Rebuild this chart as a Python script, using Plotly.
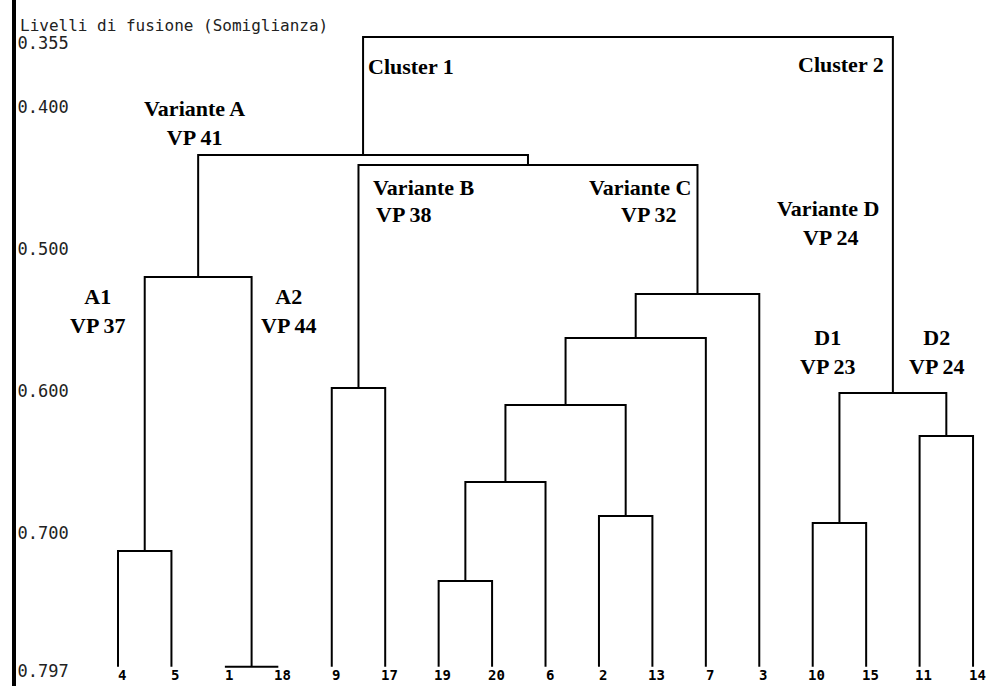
import plotly.graph_objects as go

# ---------------- data ----------------
leaf_labels = ["4", "5", "1", "18", "9", "17", "19", "20", "6", "2", "13", "7", "3",
               "10", "15", "11", "14"]
baseline = 0.797  # leaf level (fusion level axis bottom)

# merges: node name, left child, right child, fusion level
merge_names = ["m1", "m2", "m3", "m4", "m5", "m6", "m7", "m8", "m9", "m10",
               "m11", "m12", "m13", "m14", "m15", "m16"]
merge_left = ["4", "1", "m1", "9", "19", "m5", "2", "m6", "m8", "m9",
              "m4", "m3", "10", "11", "m13", "m12"]
merge_right = ["5", "18", "m2", "17", "20", "6", "13", "m7", "7", "3",
               "m10", "m11", "15", "14", "m14", "m15"]
merge_level = [0.7155, 0.797, 0.5225, 0.6007, 0.7366, 0.6669, 0.6908, 0.6127,
               0.5655, 0.5345, 0.4437, 0.4366, 0.6958, 0.6345, 0.6042, 0.3535]

tick_vals = [0.355, 0.400, 0.500, 0.600, 0.700, 0.797]
tick_text = ["0.355", "0.400", "0.500", "0.600", "0.700", "0.797"]
axis_title = "Livelli di fusione (Somiglianza)"

group_text = ["Cluster 1", "Cluster 2", "Variante A<br>VP 41", "A1<br>VP 37", "A2<br>VP 44",
              "Variante B", "VP 38", "Variante C", "VP 32", "Variante D<br> VP 24",
              "D1<br>VP 23", "D2<br>VP 24"]

# ---------------- geometry helpers ----------------
X0, DX = 118.0, 53.44        # pixel of first leaf, spacing
Y0, DY = 103.0, 1420.0       # pixel of value 0.4, px per unit


def px_x(px):
    return (px - X0) / DX


def px_y(py):
    return 0.4 + (py - Y0) / DY


pos = {lab: (i, baseline) for i, lab in enumerate(leaf_labels)}
xs, ys = [], []
for name, l, r, h in zip(merge_names, merge_left, merge_right, merge_level):
    xl, hl = pos[l]
    xr, hr = pos[r]
    xs += [xl, xl, xr, xr, None]
    ys += [hl, h, h, hr, None]
    pos[name] = ((xl + xr) / 2, h)

fig = go.Figure()
fig.add_trace(go.Scatter(x=xs, y=ys, mode="lines",
                         line=dict(color="black", width=2),
                         hoverinfo="skip", showlegend=False))

W, H = 988, 686
L = 16
fig.update_layout(
    width=W, height=H,
    margin=dict(l=L, r=0, t=0, b=0),
    paper_bgcolor="white", plot_bgcolor="white",
    xaxis=dict(range=[px_x(L), px_x(W)], visible=False),
    yaxis=dict(range=[px_y(H), px_y(0)], showgrid=False, zeroline=False,
               showline=True, linecolor="black", linewidth=4,
               tickvals=tick_vals, ticktext=tick_text, ticks="",
               ticklabelposition="inside", ticklabelstandoff=2, ticklabelshift=-4,
               tickfont=dict(family="DejaVu Sans Mono", size=17, color="#222")),
)

# axis title
fig.add_annotation(x=px_x(18), y=px_y(25), xanchor="left", yanchor="middle",
                   text=axis_title, showarrow=False,
                   font=dict(family="DejaVu Sans Mono", size=16, color="#222"))

# leaf labels
for i, lab in enumerate(leaf_labels):
    fig.add_annotation(x=i, y=baseline, yshift=-8, xshift=4, text="<b>" + lab + "</b>",
                       showarrow=False, xanchor="center", yanchor="middle",
                       font=dict(family="DejaVu Sans Mono", size=14, color="black"))

serif = dict(family="Liberation Serif", size=22, color="black")
# group labels: (px x, px y, anchor)
group_pos = [(366, 66, "left"), (886, 64, "right"), (194, 123, "center"),
             (98, 311, "center"), (289, 311, "center"),
             (371, 187, "left"), (374, 214, "left"),
             (693, 187, "right"), (679, 214, "right"),
             (828, 223, "center"), (828, 352, "center"), (937, 352, "center")]
for t, (gx, gy, anc) in zip(group_text, group_pos):
    fig.add_annotation(x=px_x(gx), y=px_y(gy), text="<b>" + t + "</b>", showarrow=False,
                       xanchor=anc, yanchor="middle", align=anc,
                       font=serif)

fig.write_html("out.html", config={"displayModeBar": False},
               post_script="document.body.style.margin='0';")
